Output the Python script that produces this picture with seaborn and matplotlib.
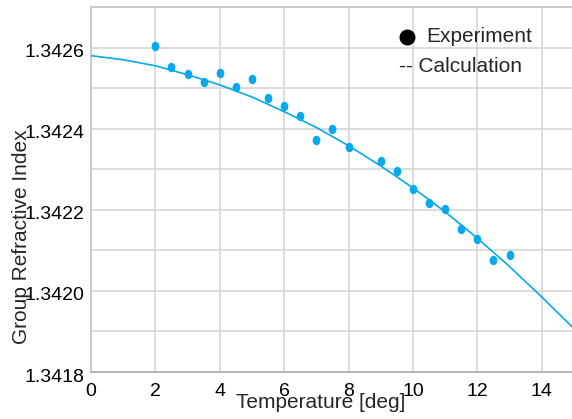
import matplotlib
matplotlib.use("Agg")
import matplotlib.pyplot as plt
import matplotlib.ticker as mticker
from matplotlib.path import Path
from matplotlib.transforms import Affine2D, ScaledTranslation
import numpy as np
import pandas as pd
import seaborn as sns

exp_temp = [2, 2.5, 3, 3.5, 4, 4.5, 5, 5.5, 6, 6.5, 7, 7.5, 8, 9, 9.5, 10,
            10.5, 11, 11.5, 12, 12.5, 13]
exp_index = [1.342604, 1.342551, 1.342534, 1.342515, 1.342537, 1.342502,
             1.342523, 1.342475, 1.342455, 1.342432, 1.342371, 1.342399,
             1.342355, 1.342321, 1.342296, 1.342252, 1.342217, 1.342202,
             1.342152, 1.342127, 1.342077, 1.342088]

# Calculated curve
calc_temp = [0, 1, 2, 3, 4, 5, 6, 7, 8, 9, 10, 11, 12, 13, 14, 15]
calc_index = [1.342580, 1.342570, 1.342555, 1.342533, 1.342508, 1.342478,
              1.342442, 1.342403, 1.342358, 1.342308, 1.342254, 1.342195,
              1.342130, 1.342060, 1.341985, 1.341907]

y_ticks = [1.3418, 1.3420, 1.3422, 1.3424, 1.3426]
x_ticks = [0, 2, 4, 6, 8, 10, 12, 14]

exp_df = pd.DataFrame({"Temperature": exp_temp, "Index": exp_index})
calc_df = pd.DataFrame({"Temperature": calc_temp, "Index": calc_index})

sns.set_style("whitegrid")
plt.rcParams["font.family"] = ["Liberation Sans", "DejaVu Sans"]

blue = "#06AAEA"
grid_c = "#d9d9d9"

fig = plt.figure(figsize=(5.72, 4.19), dpi=100)
ax = fig.add_axes([91 / 572, (419 - 372) / 419, (572 - 91) / 572, (372 - 7) / 419])

sns.lineplot(data=calc_df, x="Temperature", y="Index", ax=ax, color=blue,
             linewidth=1.2, zorder=3)

ell = Path.unit_circle().transformed(Affine2D().scale(0.82, 1.0))
sns.scatterplot(data=exp_df, x="Temperature", y="Index", ax=ax, color=blue,
                marker=ell, s=46, linewidth=0, zorder=4)

ax.set_xlim(0, 14.94)
ax.set_ylim(1.3418, 1.3427)
ax.set_xticks(x_ticks)
ax.set_yticks(y_ticks)
ax.yaxis.set_minor_locator(mticker.MultipleLocator(0.0001))
ax.yaxis.set_major_formatter(mticker.FormatStrFormatter("%.4f"))
ax.grid(True, which="major", color=grid_c, linewidth=1.3)
ax.grid(True, which="minor", axis="y", color=grid_c, linewidth=1.3)
ax.tick_params(axis="both", which="both", length=0, labelsize=14, colors="black")
ax.tick_params(axis="x", pad=8)
ax.tick_params(axis="y", pad=5)

# reference y tick labels sit slightly below their gridlines
offset = ScaledTranslation(0, -3 / 100, fig.dpi_scale_trans)
for lbl in ax.get_yticklabels():
    lbl.set_transform(lbl.get_transform() + offset)

for s in ["left", "bottom", "top"]:
    ax.spines[s].set_color("#c8c8c8")
    ax.spines[s].set_linewidth(1.3)
ax.spines["bottom"].set_color("#b0b0b0")
ax.spines["right"].set_visible(False)

ax.set_xlabel("Temperature [deg]", fontsize=15)
ax.set_ylabel("Group Refractive Index", fontsize=15)
ax.xaxis.set_label_coords((321.5 - 91) / 483, (372 - 393) / 365)
ax.yaxis.set_label_coords((31 - 91) / 483, (372 - 236.5) / 365)

# Text legend
ax.plot([0.656], [0.918], "o", color="black", markersize=10.5,
        transform=ax.transAxes, clip_on=False, zorder=5)
ax.text(0.698, 0.918, "Experiment", transform=ax.transAxes, fontsize=15,
        va="center", ha="left")
ax.text(0.640, 0.838, "-- Calculation", transform=ax.transAxes, fontsize=15,
        va="center", ha="left")

fig.savefig("out.png", dpi=100)
